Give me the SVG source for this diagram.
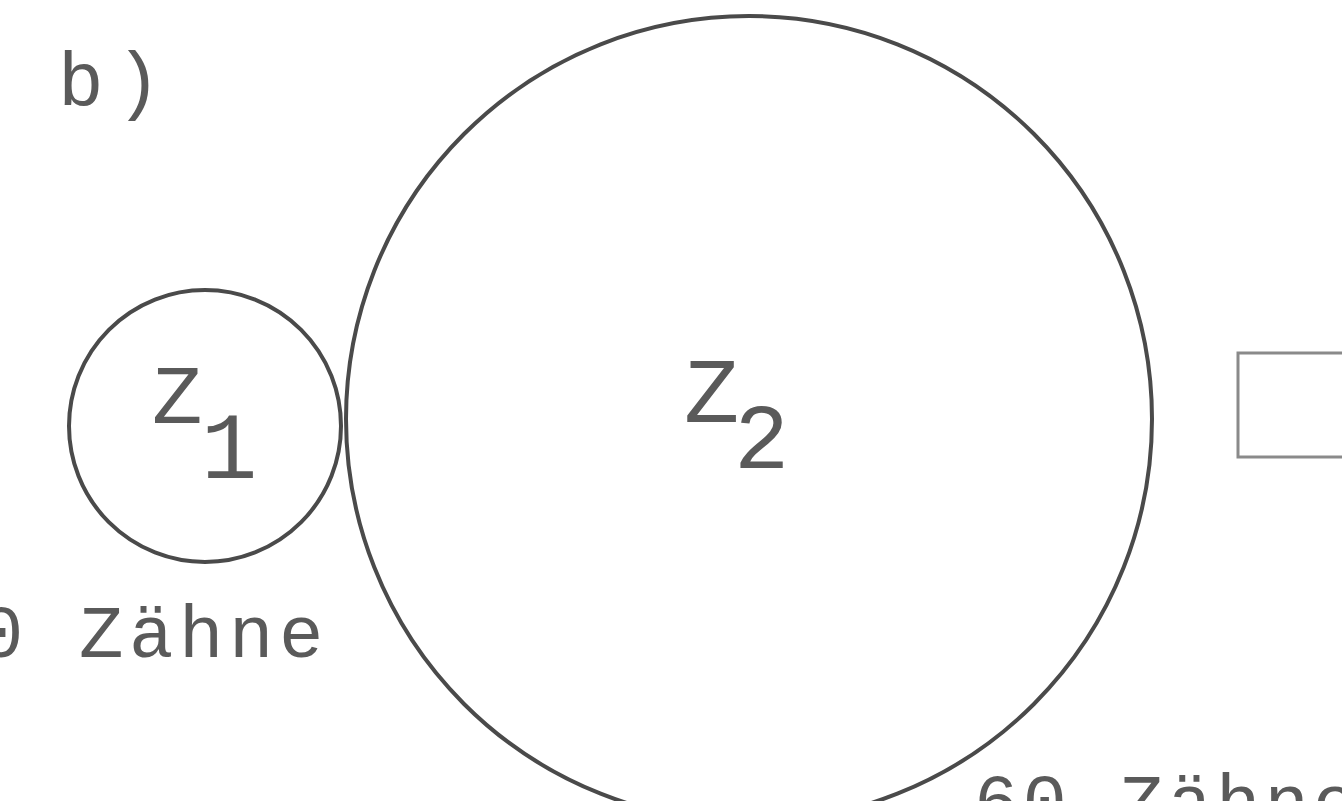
<svg xmlns="http://www.w3.org/2000/svg" width="1342" height="801" viewBox="0 0 1342 801">
<style>
.c{fill:none;stroke:#4a4a4a;stroke-width:4}
.t{font-family:"Liberation Mono","DejaVu Sans Mono",monospace;fill:#5a5a5a}
</style>
<rect width="1342" height="801" fill="#fff"/>
<text class="t" x="58" y="105" font-size="76" letter-spacing="12">b)</text>
<g id="z1">
<circle class="c" cx="205" cy="426" r="136"/>
<text class="t" x="152" y="423" font-size="84">Z</text>
<text class="t" x="201" y="478" font-size="94">1</text>
</g>
<g id="z2">
<circle class="c" cx="749" cy="419" r="403"/>
<text class="t" x="684" y="422" font-size="92">Z</text>
<text class="t" x="734" y="468" font-size="92">2</text>
</g>
<g id="rect">
<rect x="1238" y="353" width="120" height="104" fill="none" stroke="#8a8a8a" stroke-width="3"/>
</g>
<text class="t" x="-21" y="657" font-size="74" letter-spacing="5.6">0 Zähne</text>
<text class="t" x="974" y="826" font-size="74" letter-spacing="4">60 Zähne</text>
</svg>
